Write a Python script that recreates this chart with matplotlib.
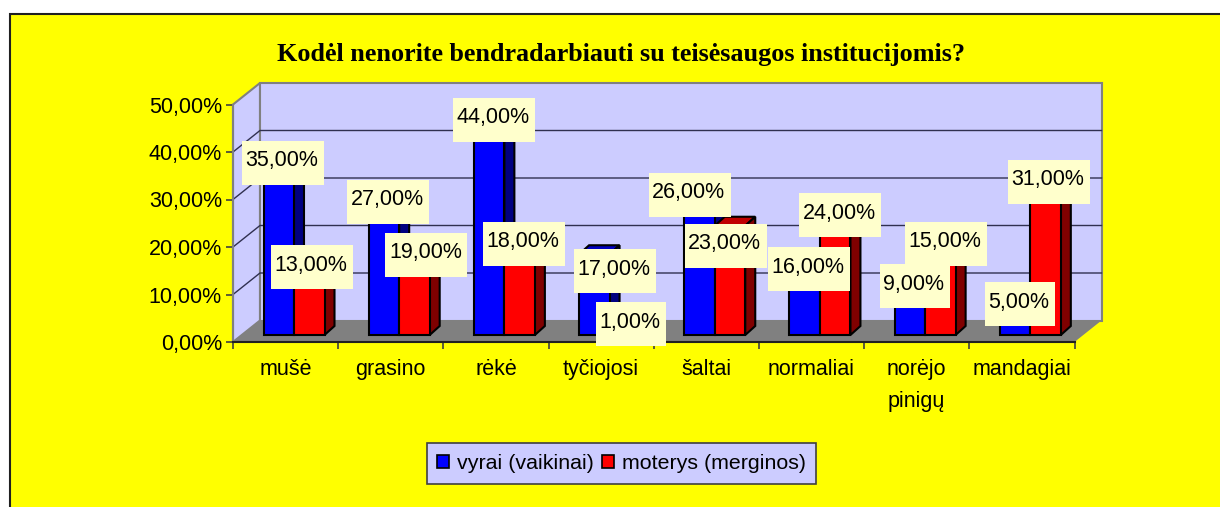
import matplotlib
matplotlib.use("Agg")
import matplotlib.pyplot as plt
from matplotlib.patches import Polygon, Rectangle, Patch
from matplotlib.transforms import IdentityTransform

categories = ['mušė', 'grasino', 'rėkė', 'tyčiojosi', 'šaltai', 'normaliai', 'norėjo\npinigų', 'mandagiai']
vyrai = [35, 27, 44, 17, 26, 16, 9, 5]
moterys = [13, 19, 18, 1, 23, 24, 15, 31]
yticks = [0, 10, 20, 30, 40, 50]

# hand placed labels in the original, px from top centre of the bar
vyrai_off = [(4, -6), (4.5, -5), (5, -6), (21, 17), (-10, -17), (4.5, 10), (5, -6), (5, -7)]
moterys_off = [(3, -6), (12, 10), (4.5, -5.5), (6.5, -6), (-4.4, 20), (5, -6), (5.5, -20), (3, -6)]

plt.rcParams['font.family'] = ['Liberation Sans', 'DejaVu Sans']
FS = 15.5
W, H = 1220, 507
fig = plt.figure(figsize=(W / 100, H / 100), dpi=100, facecolor='white')
fig.patches.append(Rectangle((10 / W, -0.1), 1.1, (H - 14) / H + 0.1, transform=fig.transFigure,
                             facecolor='#FFFF00', edgecolor='#202020', linewidth=1.5, zorder=-1))

ax = fig.add_axes([233 / W, (H - 342) / H, 841.5 / W, 237.5 / H])
ax.set_xlim(0, 8)
ax.set_ylim(0, 50)
ax.patch.set_visible(False)
ux = 841.5 / 8      # px per category
uy = 237.5 / 50     # px per percent
dx, dy = 27 / ux, 21.5 / uy


def poly(pts, fc, ec='none', lw=0, z=1):
    ax.add_patch(Polygon(pts, closed=True, facecolor=fc, edgecolor=ec, linewidth=lw,
                         zorder=z, clip_on=False, joinstyle='miter'))


# walls and floor
poly([(0, 0), (dx, dy), (dx, 50 + dy), (0, 50)], '#CCCCFF', '#808080', 1.5)
poly([(dx, dy), (8 + dx, dy), (8 + dx, 50 + dy), (dx, 50 + dy)], '#CCCCFF', '#808080', 1.5)
for v in yticks[1:-1]:
    ax.plot([0, dx, 8 + dx], [v, v + dy, v + dy], color='#303050', lw=1, zorder=1.2, clip_on=False)
poly([(0, 0), (8, 0), (8 + dx, dy), (dx, dy)], '#808080', z=1.4)

# bars
bw = 30.5 / ux
x0 = 30.5 / ux
base = 7 / uy
sx, sy = 10 / ux, 9 / uy


def bar3d(x, v, front, top, side):
    y = base + v
    poly([(x, y), (x + sx, y + sy), (x + bw + sx, y + sy), (x + bw, y)], top, 'black', 1.5, 2)
    poly([(x + bw, base), (x + bw + sx, base + sy), (x + bw + sx, y + sy), (x + bw, y)], side, 'black', 1.5, 2)
    ax.bar(x, v, bw, bottom=base, align='edge', color=front, edgecolor='black', linewidth=1.5,
           zorder=2, clip_on=False)


for i in range(len(categories)):
    bar3d(i + x0, vyrai[i], '#0000FF', '#0000C0', '#000080')
    bar3d(i + x0 + bw, moterys[i], '#FF0000', '#C00000', '#800000')


def value_label(x, v, off):
    s = f'{v},00%'
    px, py = ax.transData.transform((x + bw / 2, base + v))
    px, py = px + off[0], py - off[1]
    w = 82 if v >= 10 else 70
    ax.add_patch(Rectangle((px - w / 2, py - 22), w, 44, transform=IdentityTransform(),
                           facecolor='#FFFFCC', edgecolor='none', zorder=10, clip_on=False))
    ax.text(px - 1, py - 3.5, s, transform=IdentityTransform(), ha='center', va='baseline',
            fontsize=FS, color='black', zorder=11, clip_on=False)


for i in range(len(categories)):
    value_label(i + x0, vyrai[i], vyrai_off[i])
for i in range(len(categories)):
    value_label(i + x0 + bw, moterys[i], moterys_off[i])

# axes
for s in ['top', 'right']:
    ax.spines[s].set_visible(False)
ax.spines['left'].set_color('#808080')
ax.spines['left'].set_linewidth(1.5)
ax.spines['bottom'].set_color('#202020')
ax.spines['bottom'].set_linewidth(1.5)
ax.set_yticks(yticks)
ax.set_yticklabels([f'{v},00%' for v in yticks], fontsize=FS)
ax.tick_params(axis='y', length=5, width=1.2, color='#404040', pad=3)
ax.set_xticks(range(9))
ax.set_xticklabels([])
ax.set_xticks([i + 0.5 for i in range(8)], categories, minor=True, fontsize=FS, linespacing=1.7)
ax.tick_params(axis='x', which='major', length=5, width=1.2, color='#404040')
ax.tick_params(axis='x', which='minor', length=0, pad=12)

fig.text(621 / W, (H - 54) / H, 'Kodėl nenorite bendradarbiauti su teisėsaugos institucijomis?',
         ha='center', va='center', fontsize=18.8, fontweight='bold',
         family=['Liberation Serif', 'DejaVu Serif'])

handles = [Patch(facecolor='#0000FF', edgecolor='black', linewidth=1.2),
           Patch(facecolor='#FF0000', edgecolor='black', linewidth=1.2)]
leg = fig.legend(handles, ['vyrai (vaikinai)', 'moterys (merginos)'], ncol=2,
                 loc='center', bbox_to_anchor=(621.5 / W, (H - 463.5) / H), fontsize=15.4,
                 frameon=True, fancybox=False, framealpha=1, facecolor='#CCCCFF', edgecolor='#404040',
                 handlelength=0.55, handleheight=0.55, handletextpad=0.35, columnspacing=0.42,
                 borderpad=0.5, borderaxespad=0)
leg.get_frame().set_linewidth(1.2)

fig.savefig('out.png', dpi=100, facecolor='white')
